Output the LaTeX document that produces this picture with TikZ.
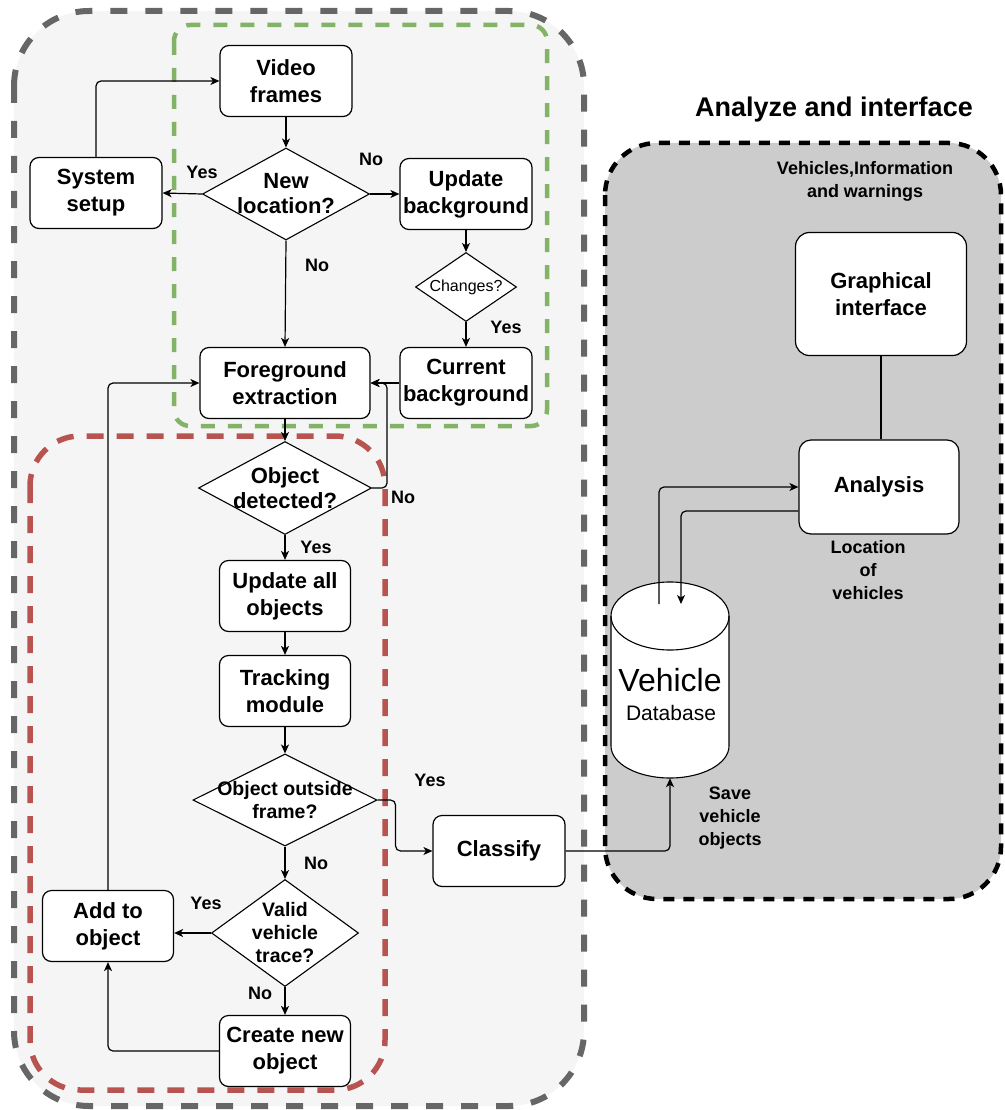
\documentclass[tikz,border=0pt]{standalone}
\usepackage{fontspec}
\setmainfont{Liberation Sans}
\usetikzlibrary{shapes.geometric,arrows.meta}
\definecolor{outerfill}{HTML}{F5F5F5}
\definecolor{outerline}{HTML}{666666}
\definecolor{greenline}{HTML}{82B366}
\definecolor{redline}{HTML}{B85450}
\definecolor{rightfill}{HTML}{CCCCCC}
\newcommand{\myfs}[2]{\fontsize{#1}{#2}\selectfont}
\begin{document}
\begin{tikzpicture}[x=1pt,y=-1pt,
  box/.style={draw, fill=white, rounded corners=9pt, line width=1.2pt, minimum width=132pt, minimum height=71pt, inner sep=0pt, align=center, font=\bfseries\myfs{22}{27}},
  dia/.style={draw, fill=white, diamond, line width=1.1pt, inner sep=0pt},
  dtext/.style={font=\bfseries\myfs{22}{25}, align=center},
  dtextsm/.style={font=\bfseries\myfs{19.5}{23}, align=center},
  lbl/.style={font=\bfseries\myfs{18}{23}, align=center},
  conn/.style={line width=1.2pt, rounded corners=5pt},
  arr/.style={conn, -{Stealth[length=9pt,width=8pt,inset=2.5pt]}},
]
\useasboundingbox (0,0) rectangle (1004,1110);
% background regions
\draw[outerline, fill=outerfill, line width=6pt, dash pattern=on 17pt off 18pt, rounded corners=75pt] (14,11) rectangle (584,1106);
\draw[black, fill=rightfill, line width=4.5pt, dash pattern=on 11pt off 9pt, rounded corners=52pt] (605,143) rectangle (1001,899);
\draw[greenline, line width=4.5pt, dash pattern=on 14pt off 13pt, rounded corners=16pt] (174,25) rectangle (547,426);
\draw[redline, line width=5.5pt, dash pattern=on 17pt off 13pt, rounded corners=50pt] (30,436) rectangle (385,1090);
\node[font=\bfseries\myfs{27}{32}] (title) at (834,110) {Analyze and interface};

% left flow nodes
\node[box] (video) at (286,81) {Video\\frames};
\node[dia, minimum width=167pt, minimum height=92pt, label={[dtext]center:New\\location?}] (newloc) at (286,194) {};
\node[box] (setup) at (96,193) {System\\setup};
\node[box] (updbg) at (466,194) {Update\\background};
\node[dia, minimum width=101pt, minimum height=69pt, label={[font=\myfs{16}{19}]center:Changes?}] (changes) at (466,287) {};
\node[box, minimum width=170pt] (fg) at (285,383) {Foreground\\extraction};
\node[box] (curbg) at (466,383) {Current\\background};
\node[dia, minimum width=173pt, minimum height=93pt, label={[dtext]center:Object\\detected?}] (objdet) at (285,488) {};
\node[box, minimum width=131pt] (updall) at (285,596) {Update all\\objects};
\node[box, minimum width=131pt] (track) at (285,691) {Tracking\\module};
\node[dia, minimum width=184pt, minimum height=92pt, label={[dtextsm]center:Object outside\\frame?}] (outside) at (285,800) {};
\node[dia, minimum width=147pt, minimum height=107pt, label={[dtextsm]center:Valid\\vehicle\\trace?}] (valid) at (285,933) {};
\node[box, minimum width=131pt] (addobj) at (108,926) {Add to\\object};
\node[box, minimum width=131pt] (create) at (285,1051) {Create new\\object};
\node[box] (classify) at (499,851) {Classify};

% right nodes
\node[box, minimum width=171pt, minimum height=123pt, rounded corners=14pt] (graph) at (881,294) {Graphical\\interface};
\node[box, minimum width=160pt, minimum height=94pt, rounded corners=12pt] (analysis) at (879,487) {Analysis};
\node[inner sep=0pt, minimum width=118pt, minimum height=196pt] (db) at (670,680) {};
\fill[white] (611,616) -- (611,746) arc[start angle=180, end angle=360, x radius=59pt, y radius=32pt] -- (729,616) arc[start angle=0, end angle=180, x radius=59pt, y radius=34pt] -- cycle;
\draw[line width=1.1pt] (611,616) -- (611,746) arc[start angle=180, end angle=360, x radius=59pt, y radius=32pt] -- (729,616) arc[start angle=0, end angle=180, x radius=59pt, y radius=34pt] -- cycle;
\draw[line width=1.1pt] (611,616) arc[start angle=180, end angle=360, x radius=59pt, y radius=34pt];
\node[font=\myfs{32}{36}] (dbt1) at (670,680) {Vehicle};
\node[font=\myfs{21}{24}] (dbt2) at (671,713) {Database};
\coordinate (dbA) at (659,604);
\coordinate (dbB) at (681,604);

% free labels
\node[lbl] (l1) at (202,172) {Yes};
\node[lbl] (l2) at (371,159) {No};
\node[lbl] (l3) at (317,265) {No};
\node[lbl] (l4) at (506,327) {Yes};
\node[lbl] (l5) at (403,497) {No};
\node[lbl] (l6) at (316,547) {Yes};
\node[lbl] (l7) at (430,780) {Yes};
\node[lbl] (l8) at (316,863) {No};
\node[lbl] (l9) at (206,903) {Yes};
\node[lbl] (l10) at (260,993) {No};
\node[lbl] (info) at (865,181) {Vehicles,Information\\and warnings};
\node[lbl] (loc) at (868,570) {Location\\of\\vehicles};
\node[lbl] (save) at (730,818) {Save\\vehicle\\objects};

% connectors
\draw[arr] (video.south) -- (newloc.north);
\draw[arr] (newloc.west) -- (setup.east);
\draw[arr] (setup.north) |- (video.west);
\draw[arr] (newloc.east) -- (updbg.west);
\draw[arr] (updbg.south) -- (changes.north);
\draw[arr] (changes.south) -- (curbg.north);
\draw[arr] (newloc.south) -- (fg.north);
\draw[arr] (curbg.west) -- (fg.east);
\draw[arr] (objdet.east) -- ++(15,0) |- (fg.east);
\draw[arr] (fg.south) -- (objdet.north);
\draw[arr] (objdet.south) -- (updall.north);
\draw[arr] (updall.south) -- (track.north);
\draw[arr] (track.south) -- (outside.north);
\draw[arr] (outside.east) -- ++(18,0) |- (classify.west);
\draw[arr] (outside.south) -- (valid.north);
\draw[arr] (valid.west) -- (addobj.east |- valid.west);
\draw[arr] (valid.south) -- (create.north);
\draw[arr] (create.west) -| (addobj.south);
\draw[arr] (addobj.north) |- (fg.west);
\draw[conn] (graph.south) -- (graph.south |- analysis.north);
\draw[arr] (classify.east) -| (db.south);
\draw[arr] (dbA) |- (analysis.west);
\draw[arr] ([yshift=-24pt]analysis.west) -| (dbB);
\end{tikzpicture}
\end{document}
